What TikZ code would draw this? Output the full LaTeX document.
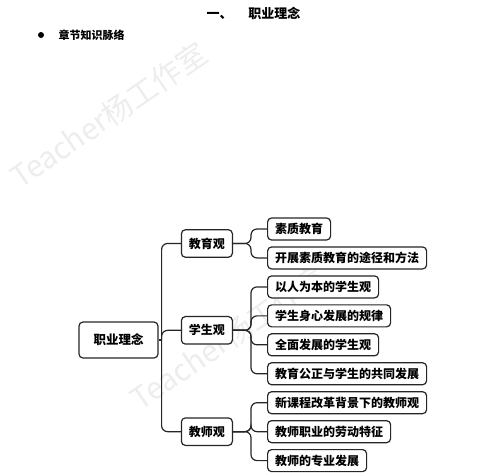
\documentclass[tikz,border=0pt]{standalone}
\usepackage{fontspec}
\newfontfamily\cjk{Noto Sans CJK SC}
\usepackage{tikz}
\usetikzlibrary{positioning,calc}

\begin{document}
\begin{tikzpicture}[
    x=1pt, y=1pt,
    font=\cjk\bfseries,
    rootbox/.style={draw=black!85, line width=1.2pt, fill=white, rounded corners=4pt, align=center, font=\cjk\bfseries\fontsize{12.5}{14}\selectfont, minimum width=79pt, minimum height=36pt},
    midbox/.style={draw=black!85, line width=1.2pt, fill=white, rounded corners=4pt, align=center, font=\cjk\bfseries\fontsize{12}{14}\selectfont, minimum width=51pt, minimum height=27.5pt},
    leafbox/.style={draw=black!85, line width=1.2pt, fill=white, rounded corners=4pt, inner xsep=7.5pt, font=\cjk\bfseries\fontsize{12}{14}\selectfont, minimum height=22pt},
    link/.style={draw=black!85, line width=1.2pt, rounded corners=6pt},
    wm/.style={text=black!7, font=\cjk\fontsize{30}{32}\selectfont, inner sep=0pt, rotate=34.5, anchor=base west}
]
\useasboundingbox (0,0) rectangle (500,-475);

% watermarks
\node[wm] (wmA) at (20,-190) {Teacher杨工作室};
\node[wm] (wmB) at (140,-412) {Teacher杨工作室};

% heading
\node[font=\cjk\bfseries\fontsize{13}{15}\selectfont] (title) at (253.5,-13.5) {一、\hspace{16pt}职业理念};
\fill (41,-35) circle (3pt) coordinate (dot);
\node[anchor=west, font=\cjk\bfseries\fontsize{11}{13}\selectfont] (sub) at (55,-35) {章节知识脉络};

% leaves
\node[leafbox, anchor=west] (szjy) at (267,-229) {素质教育};
\node[leafbox, below right=5.75pt and 0pt of szjy.south west] (kzff) {开展素质教育的途径和方法};
\node[leafbox, below right=5.75pt and 0pt of kzff.south west] (yrwb) {以人为本的学生观};
\node[leafbox, below right=5.75pt and 0pt of yrwb.south west] (sxgl) {学生身心发展的规律};
\node[leafbox, below right=5.75pt and 0pt of sxgl.south west] (qmfz) {全面发展的学生观};
\node[leafbox, below right=5.75pt and 0pt of qmfz.south west] (jygz) {教育公正与学生的共同发展};
\node[leafbox, below right=5.75pt and 0pt of jygz.south west] (xkcg) {新课程改革背景下的教师观};
\node[leafbox, below right=5.75pt and 0pt of xkcg.south west] (ldtz) {教师职业的劳动特征};
\node[leafbox, below right=5.75pt and 0pt of ldtz.south west] (zyfz) {教师的专业发展};

% middle level
\node[midbox, left=34pt of $(szjy.west)!0.5!(kzff.west)$] (jyg) {教育观};
\node[midbox, left=34pt of $(yrwb.west)!0.5!(jygz.west)$] (xsg) {学生观};
\node[midbox, left=34pt of $(xkcg.west)!0.5!(zyfz.west)$] (jsg) {教师观};

% root
\node[rootbox] (root) at (118.5,-340) {职业理念};
\coordinate (trunk) at ($(root.east)+(3pt,0)$);

\draw[link] (root.east) -- (trunk);
\draw[link] (trunk) |- (jyg.west);
\draw[link] (trunk) |- (xsg.west);
\draw[link] (trunk) |- (jsg.west);

\draw[link] (jyg.east) -- ++(18pt,0) |- (szjy.west);
\draw[link] (jyg.east) -- ++(18pt,0) |- (kzff.west);
\draw[link] (xsg.east) -- ++(18pt,0) |- (yrwb.west);
\draw[link] (xsg.east) -- ++(18pt,0) |- (sxgl.west);
\draw[link] (xsg.east) -- ++(18pt,0) |- (qmfz.west);
\draw[link] (xsg.east) -- ++(18pt,0) |- (jygz.west);
\draw[link] (jsg.east) -- ++(18pt,0) |- (xkcg.west);
\draw[link] (jsg.east) -- ++(18pt,0) |- (ldtz.west);
\draw[link] (jsg.east) -- ++(18pt,0) |- (zyfz.west);
\end{tikzpicture}
\end{document}
